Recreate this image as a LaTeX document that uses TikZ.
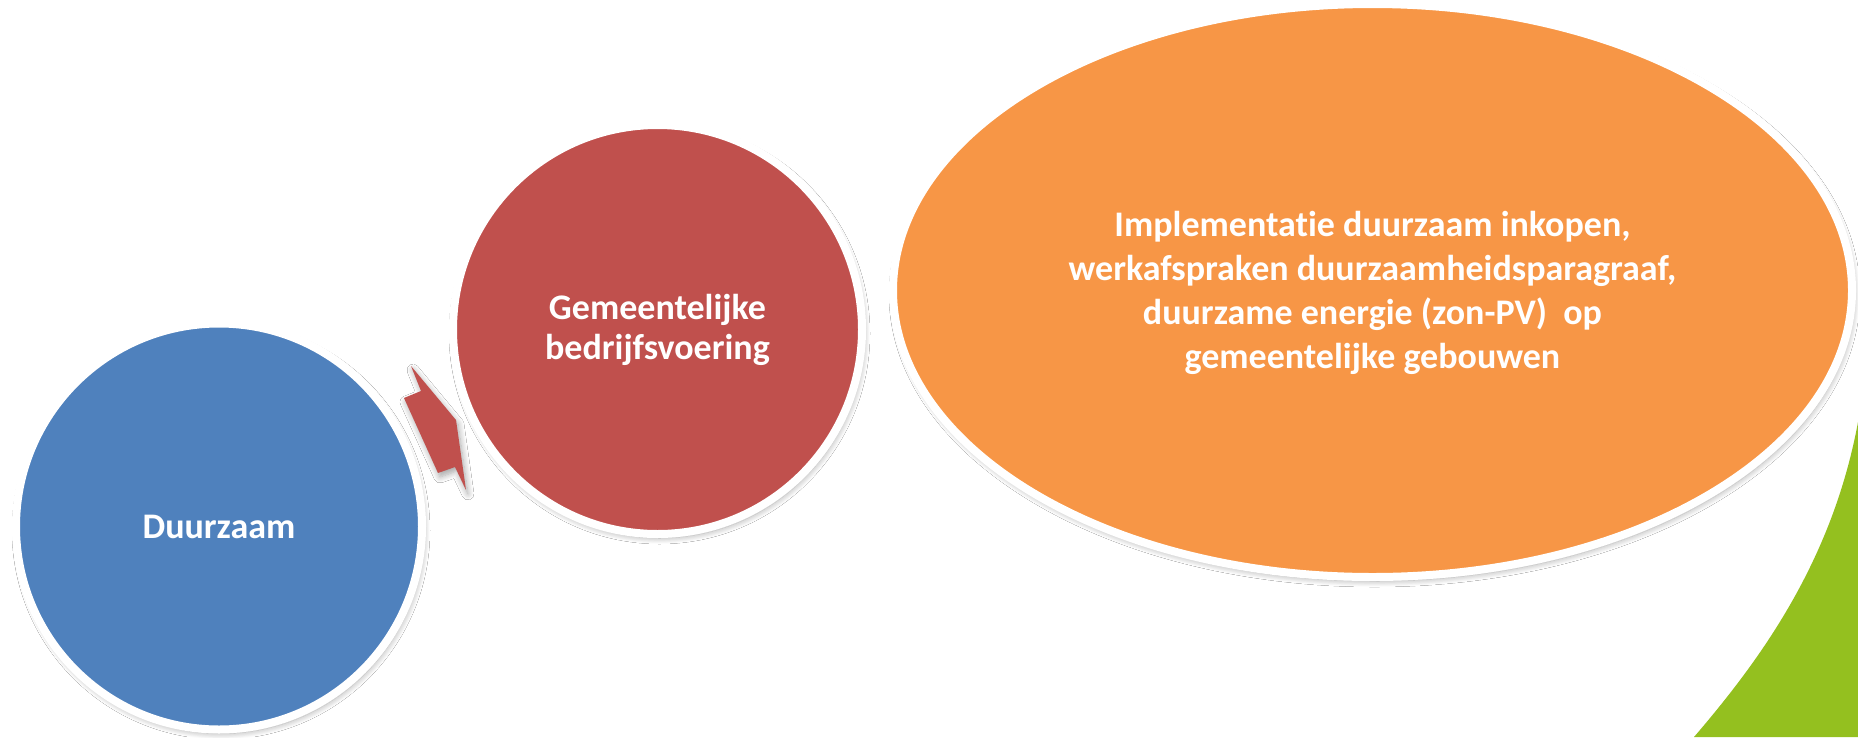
\documentclass[tikz,border=0pt]{standalone}
\usepackage{fontspec}
\setmainfont{Carlito}[Ligatures=NoCommon]
\usetikzlibrary{shapes.geometric,shadows.blur}
\definecolor{cblue}{RGB}{79,129,189}
\definecolor{cred}{RGB}{192,80,77}
\definecolor{corange}{RGB}{247,150,70}
\definecolor{cgreen}{RGB}{148,192,31}
\tikzset{
  softshadow/.style={blur shadow={shadow xshift=2pt, shadow yshift=-4pt, shadow blur steps=8, shadow opacity=35, shadow blur radius=6pt}},
  bubble/.style={circle, draw=white, line width=8pt, inner sep=0pt, text=white,
    font=\bfseries\fontsize{36}{40}\selectfont, align=center, softshadow},
  bigbubble/.style={ellipse, draw=white, line width=8pt, inner sep=0pt, text=white,
    font=\bfseries\fontsize{36}{44}\selectfont, align=center, softshadow},
  arrowshape/.style={fill=cred, softshadow},
}
\begin{document}
\begin{tikzpicture}[x=1pt,y=-1pt]
\useasboundingbox (0,0) rectangle (1858,737);
\fill[white] (0,0) rectangle (1858,737);
% green corner
\fill[cgreen] (1858,422) .. controls (1832,562) and (1760,660) .. (1694,737) -- (1858,737) -- cycle;
% nodes
\node[bubble, fill=cblue, minimum size=406pt] (duur) at (219,526.5) {Duurzaam};
\node[bubble, fill=cred, minimum size=409pt] (gem) at (657.5,329.5) {Gemeentelijke\\bedrijfsvoering};
\node[bigbubble, fill=corange, minimum width=959pt, minimum height=573pt] (impl) at (1372.5,290.5) {};
\node[text=white, font=\bfseries\fontsize{36}{44}\selectfont, align=center] (impltext) at (1372.5,293)
  {Implementatie duurzaam inkopen,\\werkafspraken duurzaamheidsparagraaf,\\duurzame energie (zon-PV)\ \ op\\gemeentelijke gebouwen};
% arrow between circles
\path[arrowshape] (411,366) -- (456,420) -- (466,490) -- (455,467) -- (438,473) -- (404,398) -- (421,391) -- cycle;
\end{tikzpicture}
\end{document}
